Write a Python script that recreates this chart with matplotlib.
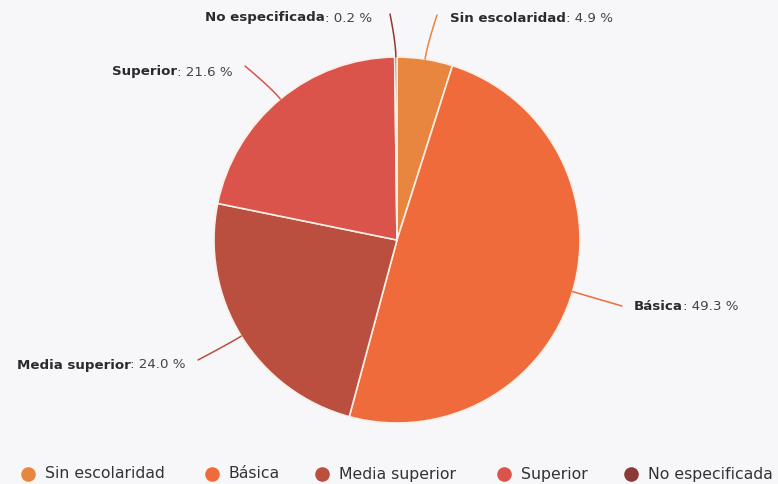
import matplotlib
matplotlib.use("Agg")
import matplotlib.pyplot as plt
import numpy as np

categories = ["Sin escolaridad", "Básica", "Media superior", "Superior", "No especificada"]
values = [4.9, 49.3, 24.0, 21.6, 0.2]
colors = ["#E8853F", "#EF6B3B", "#BA4F3F", "#DA544C", "#8C3A36"]

W, H = 778, 484
BG = "#F7F7F9"
fig = plt.figure(figsize=(W/100, H/100), dpi=100, facecolor=BG)
ax = fig.add_axes([0, 0, 1, 1])
ax.set_facecolor(BG)

cx, cy, R = 397, H - 240, 183
wedges, _ = ax.pie(values, colors=colors, startangle=90, counterclock=False,
                   center=(cx, cy), radius=R, frame=True,
                   wedgeprops=dict(edgecolor="#FAEFE6", linewidth=1.2))
ax.set_xlim(0, W)
ax.set_ylim(0, H)
ax.set_aspect("equal")
ax.axis("off")

label_pos = {
    "No especificada": (372, 18, "right"),
    "Sin escolaridad": (450, 18, "left"),
    "Superior": (233, 72, "right"),
    "Básica": (634, 307, "left"),
    "Media superior": (186, 365, "right"),
}
end_pts = {
    "No especificada": (390, 14),
    "Sin escolaridad": (437, 15),
    "Superior": (245, 66),
    "Básica": (622, 306),
    "Media superior": (198, 360),
}
fs = 9.6
fig.canvas.draw()
for w, cat, val, col in zip(wedges, categories, values, colors):
    ang = np.deg2rad((w.theta1 + w.theta2) / 2)
    p0 = np.array([cx + R*np.cos(ang), cy + R*np.sin(ang)])
    p1 = np.array([cx + (R+14)*np.cos(ang), cy + (R+14)*np.sin(ang)])
    ex, ey = end_pts[cat]
    p2 = np.array([ex, H - ey])
    t = np.linspace(0, 1, 30)[:, None]
    curve = (1-t)**2 * p0 + 2*(1-t)*t * p1 + t**2 * p2
    ax.plot(curve[:, 0], curve[:, 1], color=col, lw=1.1, solid_capstyle="round")
    lx, ly, ha = label_pos[cat]
    rest = ": %.1f %%" % val
    if ha == "left":
        t1 = ax.text(lx, H - ly, cat, fontsize=fs, fontweight="bold", color="#2b2b2b",
                     ha="left", va="center")
        fig.canvas.draw()
        bb = t1.get_window_extent()
        ax.text(bb.x1, H - ly, rest, fontsize=fs, color="#444444", ha="left", va="center")
    else:
        t2 = ax.text(lx, H - ly, rest, fontsize=fs, color="#444444", ha="right", va="center")
        fig.canvas.draw()
        bb = t2.get_window_extent()
        ax.text(bb.x0, H - ly, cat, fontsize=fs, fontweight="bold", color="#2b2b2b",
                ha="right", va="center")

# legend
leg_x = [28, 212, 322, 504, 631]
leg_y = H - 474
for x, cat, col in zip(leg_x, categories, colors):
    ax.plot([x], [leg_y], "o", ms=10.5, color=col, mec="none")
    ax.text(x + 17, leg_y, cat, fontsize=11.3, color="#333333", ha="left", va="center")

fig.savefig("out.png", dpi=100, facecolor=BG)
